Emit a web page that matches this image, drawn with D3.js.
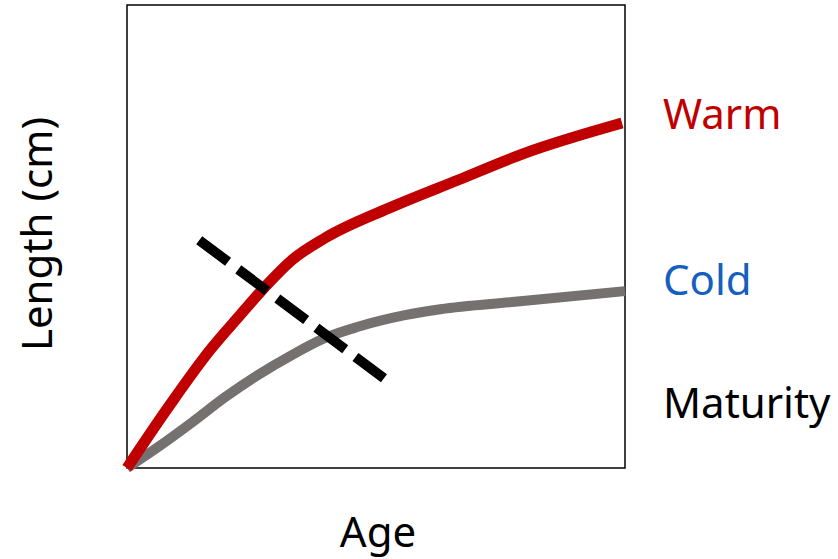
<!DOCTYPE html>
<html>
<head>
<meta charset="utf-8">
<script src="https://cdn.jsdelivr.net/npm/d3@7"></script>
<style>
  body { margin: 0; background: #fff; }
  svg { display: block; }
  text { font-family: "Noto Sans", "Open Sans", sans-serif; }
</style>
</head>
<body>
<svg id="chart" width="838" height="559"></svg>
<script>
// values (arbitrary units, 0..10 on both axes)
var warmAge = [0, 0.86, 1.67, 2.27, 2.77, 3.31, 3.98, 5.32, 6.65, 7.99, 9.94]
var warmLength = [0, 1.36, 2.55, 3.30, 3.91, 4.49, 4.97, 5.64, 6.22, 6.80, 7.45]

var coldAge = [0, 0.62, 1.31, 1.97, 2.63, 3.31, 3.98, 4.64, 5.58, 6.29, 7.79, 10]
var coldLength = [0, 0.45, 0.99, 1.53, 2.01, 2.44, 2.81, 3.05, 3.30, 3.43, 3.59, 3.82]

// maturity reaction norm (dashed)
var maturityAge = [1.45, 5.16]
var maturityLength = [4.92, 1.94]

var labels = ["Warm", "Cold", "Maturity"]

var svg = d3.select("#chart")

var margin = { left: 127, right: 213, top: 5, bottom: 91 }
var width = 838 - margin.left - margin.right
var height = 559 - margin.top - margin.bottom

var x = d3.scaleLinear().domain([0, 10]).range([margin.left, margin.left + width])
var y = d3.scaleLinear().domain([0, 10]).range([margin.top + height, margin.top])

var line = d3.line()
  .x(function(d) { return x(d[0]) })
  .y(function(d) { return y(d[1]) })
  .curve(d3.curveMonotoneX)

// plot frame
svg.append("rect")
  .attr("x", x(0))
  .attr("y", y(10))
  .attr("width", x(10) - x(0))
  .attr("height", y(0) - y(10))
  .attr("fill", "none")
  .attr("stroke", "#000")
  .attr("stroke-width", 1.5)

// cold curve first so warm sits on top
svg.append("path")
  .datum(d3.zip(coldAge, coldLength))
  .attr("d", line)
  .attr("fill", "none")
  .attr("stroke", "#767171")
  .attr("stroke-width", 10)

svg.append("path")
  .datum(d3.zip(warmAge, warmLength))
  .attr("d", line)
  .attr("fill", "none")
  .attr("stroke", "#C00000")
  .attr("stroke-width", 11)

svg.append("path")
  .datum(d3.zip(maturityAge, maturityLength))
  .attr("d", d3.line().x(function(d) { return x(d[0]) }).y(function(d) { return y(d[1]) }))
  .attr("fill", "none")
  .attr("stroke", "#000")
  .attr("stroke-width", 10)
  .attr("stroke-dasharray", "36,12.75")

// labels on the right
var labelColor = ["#C00000", "#1560BD", "#000"]
var labelY = [129, 295, 418]
svg.selectAll(".lab")
  .data(labels)
  .enter().append("text")
  .attr("class", "lab")
  .attr("x", 663)
  .attr("y", function(d, i) { return labelY[i] })
  .attr("font-size", 42)
  .attr("fill", function(d, i) { return labelColor[i] })
  .text(function(d) { return d })

// axis titles
svg.append("text")
  .attr("x", 378)
  .attr("y", 547)
  .attr("text-anchor", "middle")
  .attr("font-size", 42)
  .text("Age")

svg.append("text")
  .attr("transform", "translate(52,234) rotate(-90)")
  .attr("text-anchor", "middle")
  .attr("font-size", 42)
  .text("Length (cm)")
</script>
</body>
</html>
